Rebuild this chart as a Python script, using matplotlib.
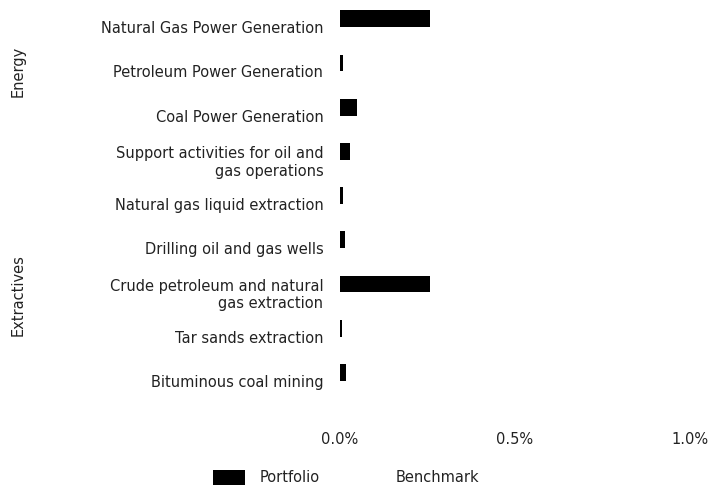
import numpy as np
import matplotlib.pyplot as plt
from matplotlib.patches import Patch
from matplotlib.ticker import FuncFormatter
from matplotlib.transforms import blended_transform_factory

# categories, top to bottom
categories = [
    "Natural Gas Power Generation",
    "Petroleum Power Generation",
    "Coal Power Generation",
    "Support activities for oil and\ngas operations",
    "Natural gas liquid extraction",
    "Drilling oil and gas wells",
    "Crude petroleum and natural\ngas extraction",
    "Tar sands extraction",
    "Bituminous coal mining",
]
groups = ["Energy", "Extractives"]
group_pos = [1.0, 6.05]

# weights in percent
portfolio = [0.257, 0.008, 0.049, 0.029, 0.008, 0.014, 0.257, 0.007, 0.017]
benchmark = [0, 0, 0, 0, 0, 0, 0, 0, 0]

plt.rcParams['font.family'] = ['DejaVu Sans']
txt = '#222222'
fs = 10.5

fig = plt.figure(figsize=(7.12, 4.86), dpi=100)
ax = fig.add_axes([0.4775, 0.1255, 0.4915, 0.8642])

y = np.arange(len(categories))
h = 0.38
ax.barh(y - h / 2, portfolio, height=h, color='black')
ax.barh(y + h / 2, benchmark, height=h, color='white')

ax.set_ylim(9.0, -0.5)
ax.set_xlim(0, 1.0)
ax.set_yticks(y)
ax.set_yticklabels(categories)
ax.set_xticks([0, 0.5, 1.0])
ax.xaxis.set_major_formatter(FuncFormatter(lambda v, p: f"{v:.1f}%"))
ax.tick_params(axis='both', length=0, labelsize=fs, labelcolor=txt)
ax.tick_params(axis='y', pad=12)
ax.tick_params(axis='x', pad=5)
for s in ax.spines.values():
    s.set_visible(False)

# group labels on the far left
trans = blended_transform_factory(fig.transFigure, ax.transData)
for g, pos in zip(groups, group_pos):
    fig.text(0.026, pos, g, rotation=90, ha='center', va='center', fontsize=fs,
             color=txt, transform=trans)

handles = [Patch(facecolor='black', label='Portfolio'),
           Patch(facecolor='white', label='Benchmark')]
leg = fig.legend(handles=handles, loc='upper center', bbox_to_anchor=(0.486, 0.048),
                 ncol=2, frameon=False, fontsize=fs, handlelength=2.2, handleheight=1.2,
                 columnspacing=2.0, handletextpad=1.0, borderpad=0)
for t in leg.get_texts():
    t.set_color(txt)

fig.savefig('out.png', dpi=100)
